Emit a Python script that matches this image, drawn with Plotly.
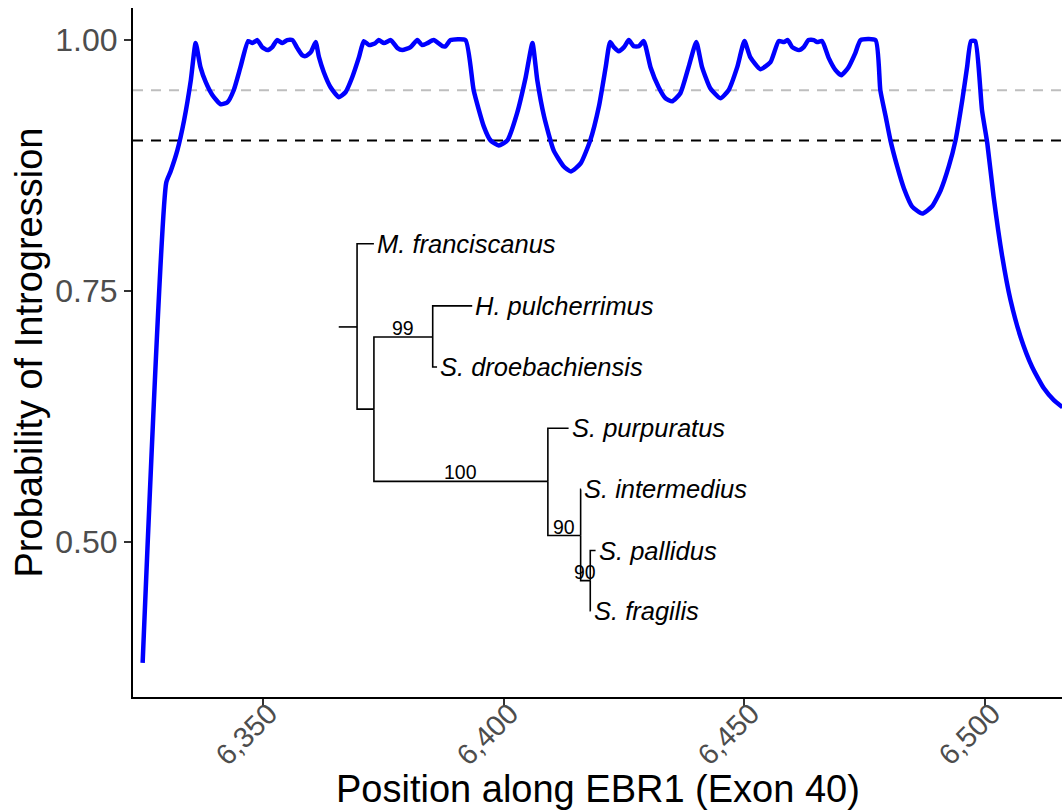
import plotly.graph_objects as go

# ---- Introgression probability along EBR1 ----
position = [6325.1, 6330.0, 6330.9, 6332.3, 6333.7, 6335.1, 6336.1, 6337.1, 6338.2, 6339.6,
            6341.3, 6342.7, 6344.0, 6345.4, 6347.0, 6347.9, 6348.9, 6349.9, 6351.0, 6352.0,
            6353.0, 6354.1, 6355.1, 6356.2, 6357.2, 6358.2, 6358.9, 6360.0, 6361.0, 6361.7,
            6362.7, 6364.1, 6365.8, 6367.2, 6368.6, 6370.0, 6371.0, 6372.1, 6373.4, 6374.1,
            6375.2, 6376.6, 6378.0, 6379.0, 6380.7, 6382.1, 6383.1, 6384.2, 6385.5, 6387.3,
            6388.0, 6389.0, 6392.1, 6393.8, 6395.9, 6397.3, 6399.0, 6400.8, 6402.8, 6404.6,
            6406.0, 6407.0, 6408.4, 6410.4, 6412.5, 6414.0, 6416.0, 6418.0, 6419.8, 6421.2,
            6422.1, 6422.9, 6423.9, 6425.0, 6426.0, 6427.0, 6428.1, 6429.1, 6430.5, 6432.2,
            6433.6, 6435.0, 6436.7, 6438.4, 6440.0, 6441.2, 6442.9, 6445.0, 6446.7, 6448.5,
            6450.0, 6451.2, 6453.3, 6455.4, 6457.1, 6458.2, 6459.0, 6459.9, 6461.3, 6462.3,
            6463.3, 6464.4, 6465.1, 6466.1, 6467.5, 6468.9, 6470.1, 6471.6, 6473.0, 6474.1,
            6477.2, 6478.2, 6479.3, 6480.3, 6481.7, 6483.1, 6484.8, 6486.9, 6488.9, 6490.7,
            6492.4, 6493.8, 6495.2, 6496.2, 6497.0, 6497.9, 6499.3, 6500.4, 6501.7, 6503.5,
            6505.2, 6507.3, 6509.7, 6512.1, 6514.2, 6516.0]
probability = [0.379, 0.858, 0.869, 0.890, 0.920, 0.960, 0.997, 0.973, 0.958, 0.945,
               0.936, 0.938, 0.950, 0.973, 0.999, 0.997, 1.000, 0.993, 0.990, 0.993,
               1.000, 0.997, 1.000, 1.000, 0.992, 0.985, 0.984, 0.988, 0.998, 0.983,
               0.968, 0.953, 0.943, 0.948, 0.963, 0.983, 0.999, 0.995, 0.997, 1.000,
               0.997, 1.000, 0.992, 0.990, 0.993, 1.000, 0.995, 0.997, 1.000, 0.994,
               0.994, 1.000, 1.000, 0.950, 0.914, 0.900, 0.895, 0.900, 0.927, 0.963,
               0.997, 0.960, 0.924, 0.890, 0.874, 0.869, 0.877, 0.900, 0.934, 0.973,
               0.998, 0.993, 0.989, 0.993, 1.000, 0.994, 0.994, 0.999, 0.973, 0.953,
               0.942, 0.939, 0.947, 0.973, 0.998, 0.973, 0.952, 0.942, 0.950, 0.973,
               0.999, 0.983, 0.971, 0.978, 0.999, 0.998, 1.000, 0.993, 0.990, 0.993,
               1.000, 1.000, 0.998, 0.999, 0.982, 0.970, 0.965, 0.973, 0.987, 1.000,
               1.000, 0.950, 0.924, 0.900, 0.874, 0.852, 0.834, 0.827, 0.834, 0.850,
               0.874, 0.900, 0.940, 0.973, 0.999, 0.999, 0.930, 0.897, 0.844, 0.784,
               0.741, 0.704, 0.674, 0.653, 0.641, 0.634]

thresholds = [0.95, 0.90]
threshold_colors = ["#BEBEBE", "#000000"]

x_ticks = [6350, 6400, 6450, 6500]
x_tick_labels = ["6,350", "6,400", "6,450", "6,500"]
y_ticks = [0.50, 0.75, 1.00]

# ---- Inset phylogeny (drawn in data coordinates) ----
node_names = ["root", "A", "B", "C", "D", "E"]
node_x = [6369.6, 6373.1, 6385.3, 6409.2, 6416.0, 6418.0]
node_y = [0.714, 0.632, 0.704, 0.560, 0.506, 0.461]
node_parent = [None, "root", "A", "A", "C", "D"]
node_support = [None, None, "99", "100", "90", "90"]
root_stub_x = 6365.8

tip_names = ["M. franciscanus", "H. pulcherrimus", "S. droebachiensis", "S. purpuratus",
             "S. intermedius", "S. pallidus", "S. fragilis"]
tip_x = [6373.1, 6393.5, 6386.2, 6413.5, 6416.1, 6419.1, 6418.1]
tip_y = [0.797, 0.735, 0.674, 0.613, 0.552, 0.491, 0.431]
tip_parent = ["root", "B", "B", "C", "D", "E", "E"]

X_RANGE = [6323.1, 6515.9]
Y_RANGE = [0.345, 1.032]
FONT = "Liberation Sans, Arial, Helvetica, sans-serif"

fig = go.Figure()

for thr, col in zip(thresholds, threshold_colors):
    fig.add_shape(type="line", xref="paper", x0=0, x1=1, yref="y", y0=thr, y1=thr,
                  line=dict(color=col, width=2, dash="10px,8px"), layer="below")

fig.add_trace(go.Scatter(x=position, y=probability, mode="lines",
                         line=dict(color="#0000FF", width=4.5, shape="spline", smoothing=0.5),
                         hoverinfo="x+y", showlegend=False))

# build tree segments
pos = {n: (x, y) for n, x, y in zip(node_names, node_x, node_y)}
seg_x, seg_y = [], []
rx, ry = pos["root"]
seg_x += [root_stub_x, rx, None]
seg_y += [ry, ry, None]
children = [(n, pos[n], p) for n, p in zip(node_names, node_parent) if p]
children += [(t, (x, y), p) for t, x, y, p in zip(tip_names, tip_x, tip_y, tip_parent)]
for name, (cx, cy), par in children:
    px_, py_ = pos[par]
    seg_x += [px_, px_, cx, None]
    seg_y += [py_, cy, cy, None]

fig.add_trace(go.Scatter(x=seg_x, y=seg_y, mode="lines",
                         line=dict(color="#000000", width=1.6),
                         hoverinfo="skip", showlegend=False))

annotations = []
for t, x, y in zip(tip_names, tip_x, tip_y):
    annotations.append(dict(x=x, y=y, xref="x", yref="y", text="<i>" + t + "</i>",
                            showarrow=False, xanchor="left", yanchor="middle", xshift=1,
                            font=dict(family=FONT, size=25.5, color="#000000")))
for n, p, s in zip(node_names, node_parent, node_support):
    if s is None:
        continue
    cx, cy = pos[n]
    pxx, _ = pos[p]
    annotations.append(dict(x=(cx + pxx) / 2, y=cy, xref="x", yref="y", text=s,
                            showarrow=False, xanchor="center", yanchor="middle", yshift=9,
                            font=dict(family=FONT, size=19.5, color="#000000")))

# rotated x tick labels
for tv, tl in zip(x_ticks, x_tick_labels):
    annotations.append(dict(x=tv, y=0, xref="x", yref="paper", text=tl, textangle=-45,
                            showarrow=False, xanchor="right", yanchor="top",
                            xshift=24, yshift=3,
                            font=dict(family=FONT, size=29, color="#4D4D4D")))

# axis titles
annotations.append(dict(x=0.5, y=0, xref="paper", yref="paper", text="Position along EBR1 (Exon 40)",
                        showarrow=False, xanchor="center", yanchor="middle", yshift=-92,
                        font=dict(family=FONT, size=38, color="#000000")))
annotations.append(dict(x=0, y=0.5, xref="paper", yref="paper", text="Probability of Introgression",
                        showarrow=False, xanchor="center", yanchor="middle", xshift=-105, textangle=-90,
                        font=dict(family=FONT, size=38, color="#000000")))

fig.update_layout(
    width=1062, height=812,
    margin=dict(l=133, r=0, t=8, b=115, autoexpand=False),
    paper_bgcolor="white", plot_bgcolor="white",
    annotations=annotations,
    font=dict(family=FONT),
)
fig.update_xaxes(range=X_RANGE, tickvals=x_ticks, showticklabels=False,
                 showgrid=False, zeroline=False, showline=True, linecolor="#000000", linewidth=2,
                 ticks="outside", ticklen=7, tickwidth=2, tickcolor="#333333",
                 automargin=False)
fig.update_yaxes(range=Y_RANGE, tickvals=y_ticks, tickformat=".2f",
                 showgrid=False, zeroline=False, showline=True, linecolor="#000000", linewidth=2,
                 ticks="outside", ticklen=7, tickwidth=2, tickcolor="#333333",
                 tickfont=dict(size=32, color="#4D4D4D", family=FONT),
                 automargin=False)

fig.write_html("out.html")
